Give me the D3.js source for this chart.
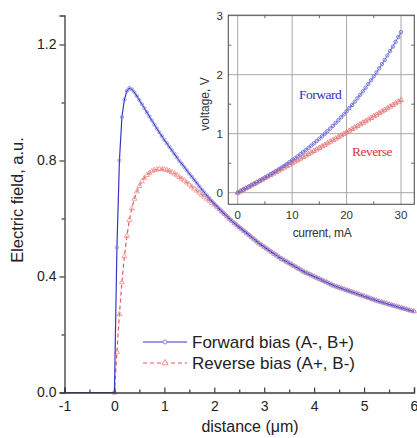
<!DOCTYPE html>
<html><head><meta charset="utf-8">
<script src="https://cdn.jsdelivr.net/npm/d3@7"></script>
<style>body{margin:0;background:#fff}svg{display:block}text{font-family:"Liberation Sans",Arial,sans-serif}</style>
</head><body>
<svg id="c" width="417" height="438"></svg>
<script>
// ---------- main chart data ----------
const distance = [0,0.05,0.1,0.15,0.2,0.25,0.3,0.35,0.4,0.45,0.5,0.55,0.6,0.65,0.7,0.75,0.8,0.85,0.9,0.95,
1,1.05,1.1,1.15,1.2,1.25,1.3,1.35,1.4,1.45,1.5,1.55,1.6,1.65,1.7,1.75,1.8,1.85,1.9,1.95,
2,2.05,2.1,2.15,2.2,2.25,2.3,2.35,2.4,2.45,2.5,2.55,2.6,2.65,2.7,2.75,2.8,2.85,2.9,2.95,
3,3.05,3.1,3.15,3.2,3.25,3.3,3.35,3.4,3.45,3.5,3.55,3.6,3.65,3.7,3.75,3.8,3.85,3.9,3.95,
4,4.05,4.1,4.15,4.2,4.25,4.3,4.35,4.4,4.45,4.5,4.55,4.6,4.65,4.7,4.75,4.8,4.85,4.9,4.95,
5,5.05,5.1,5.15,5.2,5.25,5.3,5.35,5.4,5.45,5.5,5.55,5.6,5.65,5.7,5.75,5.8,5.85,5.9,5.95,6];
const forwardField = [0,0.50,0.80,0.95,1.01,1.04,1.05,1.045,1.035,1.022,1.008,0.994,0.98,0.966,0.952,0.938,0.924,0.91,0.897,0.884,
0.871,0.859,0.847,0.835,0.823,0.811,0.799,0.788,0.777,0.766,0.755,0.744,0.733,0.722,0.711,0.700,0.690,0.680,0.670,0.660,
0.651,0.642,0.633,0.624,0.616,0.608,0.600,0.592,0.584,0.577,0.570,0.563,0.556,0.549,0.542,0.535,0.528,0.521,0.514,0.508,
0.502,0.496,0.490,0.484,0.478,0.472,0.466,0.461,0.456,0.451,0.446,0.441,0.436,0.431,0.426,0.421,0.416,0.412,0.408,0.404,
0.400,0.396,0.392,0.388,0.384,0.380,0.376,0.372,0.368,0.365,0.362,0.359,0.356,0.353,0.350,0.347,0.344,0.341,0.338,0.335,
0.332,0.329,0.326,0.323,0.320,0.317,0.314,0.312,0.309,0.307,0.304,0.302,0.299,0.297,0.294,0.292,0.289,0.287,0.284,0.282,0.280];
const reverseField = [0,0.14,0.27,0.38,0.47,0.54,0.595,0.635,0.668,0.693,0.712,0.728,0.740,0.750,0.757,0.763,0.767,0.769,0.770,0.770,
0.769,0.767,0.764,0.760,0.755,0.749,0.743,0.737,0.731,0.724,0.717,0.710,0.703,0.696,0.689,0.682,0.675,0.668,0.661,0.654,
0.647,0.640,0.632,0.624,0.616,0.608,0.600,0.592,0.584,0.577,0.570,0.563,0.556,0.549,0.542,0.535,0.528,0.521,0.514,0.508,
0.502,0.496,0.490,0.484,0.478,0.472,0.466,0.461,0.456,0.451,0.446,0.441,0.436,0.431,0.426,0.421,0.416,0.412,0.408,0.404,
0.400,0.396,0.392,0.388,0.384,0.380,0.376,0.372,0.368,0.365,0.362,0.359,0.356,0.353,0.350,0.347,0.344,0.341,0.338,0.335,
0.332,0.329,0.326,0.323,0.320,0.317,0.314,0.312,0.309,0.307,0.304,0.302,0.299,0.297,0.294,0.292,0.289,0.287,0.284,0.282,0.280];
const xTicks = [-1,0,1,2,3,4,5,6];
const xTickLabels = ["-1","0","1","2","3","4","5","6"];
const yTicks = [0,0.4,0.8,1.2];
const yTickLabels = ["0.0","0.4","0.8","1.2"];
const legendLabels = ["Forward bias (A-, B+)","Reverse bias (A+, B-)"];

// ---------- inset data ----------
const current = [0,0.5,1,1.5,2,2.5,3,3.5,4,4.5,5,5.5,6,6.5,7,7.5,8,8.5,9,9.5,10,10.5,11,11.5,12,12.5,13,13.5,14,14.5,
15,15.5,16,16.5,17,17.5,18,18.5,19,19.5,20,20.5,21,21.5,22,22.5,23,23.5,24,24.5,25,25.5,26,26.5,27,27.5,28,28.5,29,29.5,30];
const forwardVoltage = [0,0.024,0.049,0.074,0.099,0.124,0.149,0.175,0.201,0.228,0.254,0.282,0.309,0.337,0.366,0.395,0.425,0.455,0.486,0.518,
0.550,0.583,0.617,0.651,0.686,0.722,0.759,0.797,0.836,0.875,0.916,0.957,1.000,1.043,1.088,1.134,1.181,1.229,1.278,1.328,
1.380,1.433,1.487,1.543,1.600,1.658,1.718,1.779,1.842,1.906,1.972,2.039,2.108,2.179,2.251,2.325,2.400,2.477,2.556,2.637,2.720];
const reverseVoltage = [0,0.024,0.049,0.074,0.098,0.123,0.148,0.172,0.197,0.222,0.247,0.272,0.297,0.322,0.348,0.373,0.398,0.424,0.449,0.474,
0.500,0.526,0.551,0.577,0.603,0.629,0.655,0.681,0.707,0.733,0.759,0.785,0.811,0.838,0.864,0.890,0.917,0.943,0.970,0.997,
1.023,1.050,1.077,1.104,1.131,1.158,1.185,1.212,1.239,1.266,1.294,1.321,1.348,1.376,1.404,1.431,1.459,1.486,1.514,1.542,1.570];
const insetXTicks = [0,10,20,30];
const insetYTicks = [0,1,2,3];

// ---------- drawing ----------
const svg = d3.select("#c");
const blue = "#3636c4", blueMk = "#8484e2", red = "#e25a5a", redMk = "#ef9494", axisCol = "#3a3a3a", txt = "#222";

const x = d3.scaleLinear().domain([-1,6]).range([64.5,414]);
const y = d3.scaleLinear().domain([0,1.3]).range([392.5,15.5]);

const fwd = distance.map((d,i)=>({x:d,y:forwardField[i]}));
const rev = distance.map((d,i)=>({x:d,y:reverseField[i]}));
const fwdFull = [{x:-1,y:0}].concat(fwd);
const revFull = [{x:-1,y:0}].concat(rev);

const line = d3.line().x(d=>x(d.x)).y(d=>y(d.y));
const g = svg.append("g");

// reverse
g.append("path").attr("d",line(revFull)).attr("fill","none").attr("stroke",red).attr("stroke-width",1.2).attr("stroke-dasharray","4,3");
const tri = d3.symbol().type(d3.symbolTriangle).size(11);
g.selectAll(".rm").data(rev).join("path").attr("transform",d=>`translate(${x(d.x)},${y(d.y)})`)
  .attr("d",tri()).attr("fill","none").attr("stroke",redMk).attr("stroke-width",1).attr("stroke-opacity",0.85);
// forward
g.append("path").attr("d",line(fwdFull)).attr("fill","none").attr("stroke",blue).attr("stroke-width",1.2);
g.selectAll(".fm").data(fwd).join("circle").attr("cx",d=>x(d.x)).attr("cy",d=>y(d.y)).attr("r",1.7)
  .attr("fill","none").attr("stroke",blueMk).attr("stroke-width",1).attr("stroke-opacity",0.75);

// axes
const xAxis = d3.axisBottom(x).tickValues(xTicks).tickSize(-5).tickFormat((d,i)=>xTickLabels[i]).tickPadding(9);
const gx = svg.append("g").attr("transform","translate(0,392.5)").call(xAxis);
gx.select(".domain").attr("stroke",axisCol).attr("stroke-width",1.3);
gx.selectAll(".tick line").attr("stroke",axisCol).attr("stroke-width",1.2);
gx.selectAll(".tick text").attr("font-size",14).attr("fill",txt).style("font-family","Liberation Sans, Arial");
const xMinor = d3.axisBottom(x).tickValues([-0.5,0.5,1.5,2.5,3.5,4.5,5.5]).tickSize(-3).tickFormat("");
const gxm = svg.append("g").attr("transform","translate(0,392.5)").call(xMinor);
gxm.select(".domain").remove(); gxm.selectAll(".tick line").attr("stroke",axisCol).attr("stroke-width",1.2);

const yAxis = d3.axisLeft(y).tickValues(yTicks).tickSize(5).tickFormat((d,i)=>yTickLabels[i]).tickPadding(3);
const gy = svg.append("g").attr("transform","translate(64.5,0)").call(yAxis);
gy.select(".domain").attr("stroke",axisCol).attr("stroke-width",1.3);
gy.selectAll(".tick line").attr("stroke",axisCol).attr("stroke-width",1.2);
gy.selectAll(".tick text").attr("font-size",14).attr("fill",txt).style("font-family","Liberation Sans, Arial");
const yMinor = d3.axisLeft(y).tickValues([0.2,0.6,1.0]).tickSize(3).tickFormat("");
const gym = svg.append("g").attr("transform","translate(64.5,0)").call(yMinor);
gym.select(".domain").remove(); gym.selectAll(".tick line").attr("stroke",axisCol).attr("stroke-width",1.2);

svg.append("text").attr("x",250).attr("y",432).attr("text-anchor","middle").attr("font-size",16).attr("fill",txt).text("distance (\u03bcm)");
svg.append("text").attr("transform","translate(23,200) rotate(-90)").attr("text-anchor","middle").attr("font-size",16.5).attr("fill",txt).text("Electric field, a.u.");

// legend
const lg = svg.append("g");
[[0,blue,null,blueMk,"circle"],[1,red,"4,3",redMk,"tri"]].forEach(([i,col,dash,mk,shape])=>{
  const yy = 342 + i*21;
  lg.append("line").attr("x1",143).attr("x2",187).attr("y1",yy).attr("y2",yy).attr("stroke",col).attr("stroke-width",1.2).attr("stroke-dasharray",dash);
  if(shape==="circle") lg.append("circle").attr("cx",165).attr("cy",yy).attr("r",2).attr("fill","#fff").attr("stroke",mk).attr("stroke-width",1);
  else lg.append("path").attr("transform",`translate(165,${yy})`).attr("d",d3.symbol().type(d3.symbolTriangle).size(16)()).attr("fill","#fff").attr("stroke",mk).attr("stroke-width",1);
  lg.append("text").attr("x",192).attr("y",yy+6).attr("font-size",17).attr("fill",txt).text(legendLabels[i]);
});

// ---------- inset ----------
const ix = d3.scaleLinear().domain([0,30]).range([237.7,401]);
const iy = d3.scaleLinear().domain([0,3]).range([192.7,15.7]);
const L=228.3,R=414.3,T=15.2,B=204.3;
const ins = svg.append("g");
ins.append("rect").attr("x",L).attr("y",T).attr("width",R-L).attr("height",B-T).attr("fill","#fff");
ins.selectAll(".vg").data(insetXTicks).join("line").attr("x1",d=>ix(d)).attr("x2",d=>ix(d)).attr("y1",T).attr("y2",B).attr("stroke","#a8a8a8").attr("stroke-width",1);
ins.selectAll(".hg").data(insetYTicks).join("line").attr("y1",d=>iy(d)).attr("y2",d=>iy(d)).attr("x1",L).attr("x2",R).attr("stroke","#a8a8a8").attr("stroke-width",1);
[5,15,25].forEach(v=>{
  ins.append("line").attr("x1",ix(v)).attr("x2",ix(v)).attr("y1",B).attr("y2",B-3).attr("stroke","#666");
  ins.append("line").attr("x1",ix(v)).attr("x2",ix(v)).attr("y1",T).attr("y2",T+3).attr("stroke","#666");
});
[0.5,1.5,2.5].forEach(v=>{
  ins.append("line").attr("y1",iy(v)).attr("y2",iy(v)).attr("x1",L).attr("x2",L+3).attr("stroke","#666");
  ins.append("line").attr("y1",iy(v)).attr("y2",iy(v)).attr("x1",R).attr("x2",R-3).attr("stroke","#666");
});
ins.append("rect").attr("x",L).attr("y",T).attr("width",R-L).attr("height",B-T).attr("fill","none").attr("stroke","#555").attr("stroke-width",1.1);

const iline = d3.line();
const rvPts = current.map((c,i)=>[ix(c),iy(reverseVoltage[i])]);
const fvPts = current.map((c,i)=>[ix(c),iy(forwardVoltage[i])]);
ins.append("path").attr("d",iline(rvPts)).attr("fill","none").attr("stroke","#e06a6a").attr("stroke-width",0.8);
ins.selectAll(".rv").data(rvPts).join("path").attr("transform",d=>`translate(${d[0]},${d[1]})`)
  .attr("d",d3.symbol().type(d3.symbolTriangle).size(11)()).attr("fill","none").attr("stroke","#ea7b7b").attr("stroke-width",0.9);
ins.append("path").attr("d",iline(fvPts)).attr("fill","none").attr("stroke","#4848cc").attr("stroke-width",0.8);
ins.selectAll(".fv").data(fvPts).join("circle").attr("cx",d=>d[0]).attr("cy",d=>d[1]).attr("r",1.7)
  .attr("fill","none").attr("stroke","#6c6cdc").attr("stroke-width",0.9);

ins.selectAll(".xl").data(insetXTicks).join("text").attr("x",d=>ix(d)).attr("y",219).attr("text-anchor","middle").attr("font-size",11.5).attr("fill","#333").text(d=>d);
ins.selectAll(".yl").data(insetYTicks).join("text").attr("x",223).attr("y",d=>iy(d)+4).attr("text-anchor","end").attr("font-size",11.5).attr("fill","#333").text(d=>d);
ins.append("text").attr("x",322).attr("y",237).attr("text-anchor","middle").attr("font-size",12).attr("fill","#333").attr("letter-spacing","-0.3").text("current, mA");
ins.append("text").attr("transform","translate(209,104) rotate(-90)").attr("text-anchor","middle").attr("font-size",12).attr("fill","#333").text("voltage, V");
ins.append("text").attr("x",299).attr("y",99).attr("font-size",13.5).attr("fill","#3030b4").style("font-family","Liberation Serif, Times New Roman").attr("letter-spacing","-0.5").text("Forward");
ins.append("text").attr("x",352).attr("y",156).attr("font-size",13.5).attr("fill","#d83838").style("font-family","Liberation Serif, Times New Roman").attr("letter-spacing","-0.5").text("Reverse");
</script>
</body></html>
